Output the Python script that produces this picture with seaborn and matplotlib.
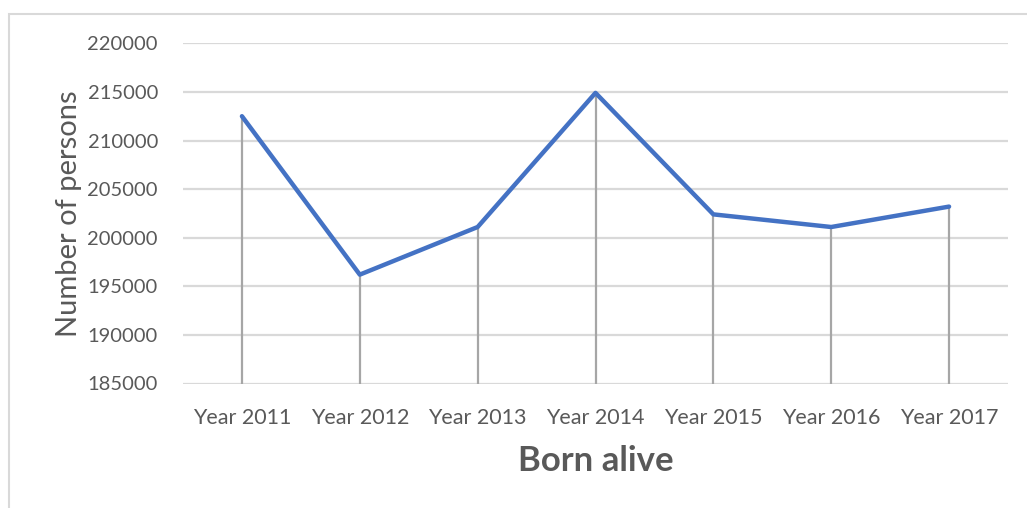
import matplotlib
matplotlib.use("Agg")
import matplotlib.pyplot as plt
from matplotlib.patches import Rectangle
import seaborn as sns
import pandas as pd

# Live births per year
years = ["Year 2011", "Year 2012", "Year 2013", "Year 2014",
         "Year 2015", "Year 2016", "Year 2017"]
born_alive = [212500, 196200, 201100, 214900, 202400, 201100, 203200]
y_ticks = [185000, 190000, 195000, 200000, 205000, 210000, 215000, 220000]

df = pd.DataFrame({"year": years, "born": born_alive})

sns.set_theme(style="white")
plt.rcParams["font.family"] = ["Lato", "DejaVu Sans"]

text_color = "#595959"
grid_color = "#d9d9d9"
drop_color = "#a6a6a6"
line_color = "#4472C4"

fig = plt.figure(figsize=(10.27, 5.08), dpi=100)
ax = fig.add_axes([183 / 1027, 1 - 383.5 / 508, (1008 - 183) / 1027, (383.5 - 43.3) / 508])

# light frame around the chart area
fig.patches.append(Rectangle((9 / 1027, -0.1), 1.2, 1 - 14 / 508 + 0.1,
                             transform=fig.transFigure, fill=False,
                             edgecolor=grid_color, linewidth=1.5))

ax.set_ylim(y_ticks[0], y_ticks[-1])
ax.set_yticks(y_ticks)
for t in y_ticks:
    ax.axhline(t, color=grid_color, linewidth=1.6, zorder=0)

x_pos = list(range(len(years)))
ax.vlines(x_pos, y_ticks[0], df["born"], color=drop_color, linewidth=1.6, zorder=1)

sns.lineplot(data=df, x="year", y="born", ax=ax, color=line_color,
             linewidth=3.2, sort=False, zorder=3)

ax.set_xlim(-0.5, len(years) - 0.5)
ax.set_xticks(x_pos)
ax.set_xticklabels(years)

for s in ax.spines.values():
    s.set_visible(False)

ax.tick_params(axis="y", length=0, pad=18, labelsize=14.5, labelcolor=text_color)
ax.tick_params(axis="x", length=0, pad=18, labelsize=15.5, labelcolor=text_color)

ax.set_xlabel("Born alive", fontsize=25, fontweight="bold", color=text_color, labelpad=12)
ax.set_ylabel("Number of persons", fontsize=21, color=text_color, labelpad=4)

fig.savefig("out.png", dpi=100, facecolor="white")
